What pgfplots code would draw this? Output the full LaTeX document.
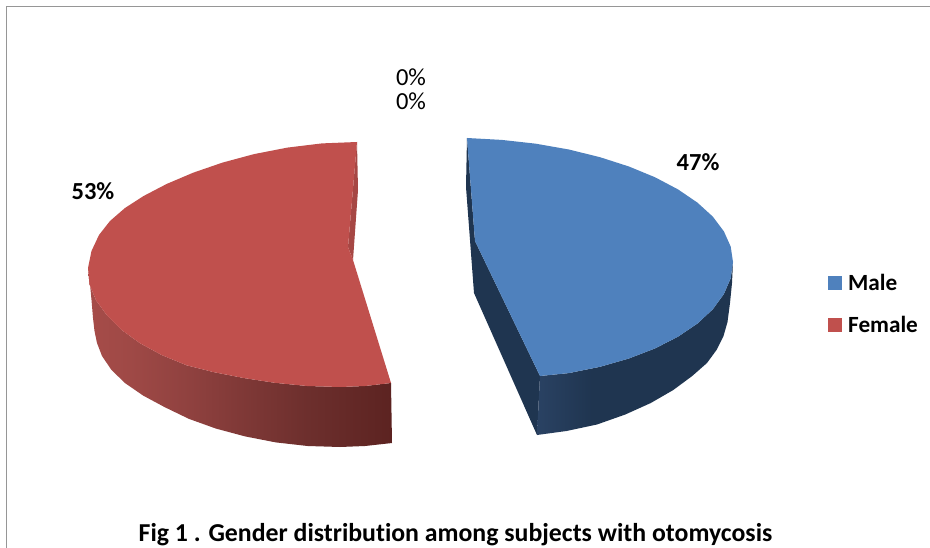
\documentclass[border=0pt]{standalone}
\usepackage{fontspec}
\setmainfont[Ligatures=NoCommon]{Carlito}
\usepackage{pgfplots}
\pgfplotsset{compat=1.18}
\definecolor{bluetop}{HTML}{4F81BD}
\definecolor{redtop}{HTML}{C0504D}
\definecolor{bluedark}{HTML}{1F3550}
\definecolor{bluelit}{HTML}{2A4263}
\definecolor{redsliver}{HTML}{A64744}
\definecolor{frame}{HTML}{969696}
\definecolor{ra}{HTML}{A64C49}
\definecolor{rb}{HTML}{9F4946}
\definecolor{rc}{HTML}{8F413F}
\definecolor{rd}{HTML}{803937}
\definecolor{re}{HTML}{6D2F2D}
\definecolor{rf}{HTML}{5C2321}
\pgfdeclarehorizontalshading{redside}{100bp}{color(0bp)=(ra); color(25bp)=(ra); color(31.9bp)=(rb); color(41.8bp)=(rc); color(50bp)=(rd); color(61bp)=(re); color(75bp)=(rf); color(100bp)=(rf)}
\pgfdeclarehorizontalshading{blueside}{100bp}{color(0bp)=(bluelit); color(25bp)=(bluelit); color(39bp)=(bluedark); color(100bp)=(bluedark)}
\begin{document}
\begin{tikzpicture}
\begin{axis}[
  scale only axis, width=930pt, height=548pt,
  xmin=0, xmax=930, ymin=0, ymax=548, y dir=reverse,
  axis lines=none, clip=true, no markers,
]
% page background
\addplot[draw=none, fill=white] coordinates {(0,0) (930,0) (930,548) (0,548)} --cycle;
% frame
\addplot[frame, line width=1.4pt] coordinates {(6.5,548) (6.5,6.5) (930,6.5)};
% Female: side
\addplot[draw=none, shading=redside] coordinates {
 (88,268) (89.5,284.3) (96,300.3) (107.2,315.6) (121.8,330.1) (140.1,343.3) (161.8,355.1) (186.6,365.3)
 (214,372.2) (243.6,378) (274.8,382.8) (307.1,386) (340,387) (365,386) (391,383)
 (392,443) (365,446) (340,447) (307.6,446) (275.8,442.4) (245.1,436.4) (216,428.6) (189,418.9) (164.6,407.1)
 (143.2,395.6) (125.2,383.2) (111.5,370) (102,356) (97,343) (94.5,331) (93,318) (91.5,300) (90,284)} --cycle;
% Female: inner sliver
\addplot[draw=none, fill=redsliver] coordinates {(357,142) (358,190) (353,260) (348,247)} --cycle;
% Female: top
\addplot[draw=none, fill=redtop] coordinates {
 (357,142) (321.9,143.4) (287.4,147.6) (254.1,154.1) (222.5,162.6) (193.2,172.7) (166.8,183.9) (143.6,196)
 (125,208) (110,221) (99,235) (91.5,251) (88,268)
 (89.5,284.3) (96,300.3) (107.2,315.6) (121.8,330.1) (140.1,343.3) (161.8,355.1) (186.6,365.3)
 (214,372.2) (243.6,378) (274.8,382.8) (307.1,386) (340,387) (365,386) (391,383) (353,260) (348,247)} --cycle;
% Male: inner side
\addplot[draw=none, fill=bluedark] coordinates {
 (467,138) (466,187) (470,240) (474,293) (537,435) (540,376) (475,241)} --cycle;
% Male: outer side
\addplot[draw=none, shading=blueside] coordinates {
 (540,376) (568.8,373.1) (600,366.8) (628.9,358.5) (655.1,348.4) (678,336.7) (697.4,323.6) (712.8,309.3) (723.9,294) (730.7,278.2) (733,262)
 (732,283) (730,303) (727.5,322) (723.5,336) (716.5,350) (707,363) (692.2,376) (673.3,390) (650.8,403) (625.3,414.5) (597,424.5) (566.5,431) (537,435)} --cycle;
% Male: top
\addplot[draw=none, fill=bluetop] coordinates {
 (467,138) (501.7,139.9) (535.8,143.7) (568.8,149.5) (600,157.2) (628.9,166.5) (655.1,177.3) (678,189.4)
 (697.4,202.6) (712.8,216.6) (723.9,231.4) (730.7,246.6) (733,262)
 (730.7,278.2) (723.9,294) (712.8,309.3) (697.4,323.6) (678,336.7) (655.1,348.4) (628.9,358.5) (600,366.8) (568.8,373.1)
 (540,376) (475,241)} --cycle;
% legend keys
\addplot[draw=none, fill=bluetop] coordinates {(828,276) (842,276) (842,290) (828,290)} --cycle;
\addplot[draw=none, fill=redtop] coordinates {(828,318) (842,318) (842,332) (828,332)} --cycle;
% text
\node[anchor=base west, inner sep=0pt, font=\fontsize{23.2}{27}\selectfont\bfseries] at (axis cs:848,291) {Male};
\node[anchor=base west, inner sep=0pt, font=\fontsize{23.2}{27}\selectfont\bfseries] at (axis cs:848,333) {Female};
\node[anchor=base, inner sep=0pt, font=\fontsize{24.5}{27}\selectfont\bfseries] at (axis cs:698,170.5) {47\%};
\node[anchor=base, inner sep=0pt, font=\fontsize{24.5}{27}\selectfont\bfseries] at (axis cs:93,199.5) {53\%};
\node[anchor=base, inner sep=0pt, font=\fontsize{24.5}{27}\selectfont] at (axis cs:411,86) {0\%};
\node[anchor=base, inner sep=0pt, font=\fontsize{24.5}{27}\selectfont] at (axis cs:411,110) {0\%};
\node[anchor=base, inner sep=0pt, font=\fontsize{25.8}{30}\selectfont\bfseries] at (axis cs:455.5,541.5) {Fig 1 . Gender distribution among subjects with otomycosis};
\end{axis}
\end{tikzpicture}
\end{document}
